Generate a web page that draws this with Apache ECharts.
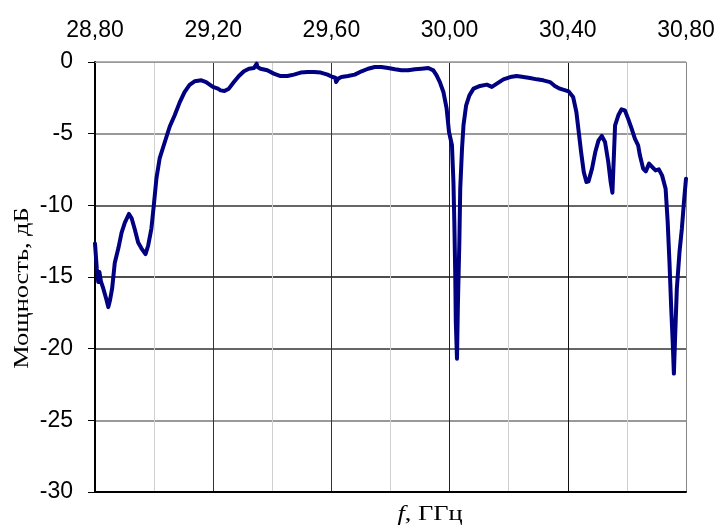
<!DOCTYPE html>
<html>
<head>
<meta charset="utf-8">
<script src="https://cdn.jsdelivr.net/npm/echarts@6/dist/echarts.min.js"></script>
<style>
  html, body { margin: 0; padding: 0; background: #fff; }
  #chart { width: 718px; height: 526px; }
</style>
</head>
<body>
<div id="chart"></div>
<script>
// Measured transmission spectrum: frequency (GHz) and power (dB)
const freq = [
  28.800, 28.806, 28.811, 28.815, 28.820, 28.828, 28.839, 28.845, 28.851, 28.858,
  28.867, 28.879, 28.890, 28.901, 28.915, 28.924, 28.935, 28.946, 28.957, 28.971,
  28.980, 28.991, 28.999, 29.008, 29.019, 29.036, 29.053, 29.070, 29.087, 29.103,
  29.120, 29.137, 29.160, 29.176, 29.199, 29.216, 29.225, 29.238, 29.253, 29.270,
  29.287, 29.304, 29.321, 29.338, 29.347, 29.350, 29.360, 29.383, 29.405, 29.428,
  29.451, 29.473, 29.496, 29.519, 29.541, 29.564, 29.587, 29.604, 29.613, 29.616,
  29.623, 29.634, 29.656, 29.679, 29.702, 29.724, 29.747, 29.769, 29.792, 29.815,
  29.837, 29.860, 29.883, 29.905, 29.928, 29.945, 29.956, 29.967, 29.979, 29.990,
  29.998, 30.008, 30.013, 30.016, 30.019, 30.021, 30.025, 30.028, 30.033, 30.036,
  30.042, 30.047, 30.056, 30.067, 30.081, 30.103, 30.126, 30.143, 30.160, 30.182,
  30.205, 30.227, 30.250, 30.272, 30.295, 30.317, 30.340, 30.356, 30.373, 30.403,
  30.418, 30.429, 30.437, 30.445, 30.454, 30.463, 30.470, 30.482, 30.493, 30.504,
  30.515, 30.526, 30.537, 30.545, 30.551, 30.556, 30.560, 30.571, 30.582, 30.593,
  30.604, 30.616, 30.627, 30.638, 30.644, 30.655, 30.664, 30.675, 30.686, 30.697,
  30.708, 30.719, 30.731, 30.738, 30.744, 30.750, 30.755, 30.759, 30.763, 30.769,
  30.778, 30.786, 30.794, 30.800
];
const power = [
  -12.67, -14.40, -15.35, -14.65, -15.30, -15.80, -16.60, -17.10, -16.60, -15.80,
  -14.00, -13.00, -11.90, -11.20, -10.60, -10.90, -11.70, -12.60, -13.00, -13.40,
  -12.80, -11.60, -10.00, -8.10, -6.70, -5.60, -4.50, -3.70, -2.80, -2.10,
  -1.60, -1.35, -1.28, -1.40, -1.74, -1.86, -1.98, -2.02, -1.86, -1.40,
  -0.98, -0.65, -0.47, -0.42, -0.12, -0.35, -0.47, -0.58, -0.81, -0.98,
  -0.98, -0.88, -0.74, -0.70, -0.70, -0.74, -0.88, -1.05, -1.10, -1.40,
  -1.16, -1.05, -0.98, -0.88, -0.65, -0.47, -0.35, -0.35, -0.42, -0.51,
  -0.58, -0.58, -0.51, -0.47, -0.42, -0.58, -0.93, -1.40, -2.09, -3.26,
  -4.88, -5.81, -8.37, -11.16, -14.65, -18.14, -20.70, -17.00, -12.56, -8.84,
  -6.05, -4.42, -3.02, -2.33, -1.86, -1.67, -1.58, -1.74, -1.51, -1.21,
  -1.05, -0.98, -1.05, -1.12, -1.21, -1.28, -1.40, -1.67, -1.86, -2.05,
  -2.44, -3.49, -4.88, -6.28, -7.67, -8.37, -8.33, -7.44, -6.28, -5.47,
  -5.16, -5.58, -6.98, -8.37, -9.12, -6.51, -4.42, -3.72, -3.30, -3.37,
  -3.95, -4.65, -5.35, -5.81, -6.51, -7.44, -7.63, -7.09, -7.33, -7.56,
  -7.49, -7.91, -8.84, -11.16, -13.95, -17.20, -19.53, -21.74, -19.30, -15.81,
  -13.26, -11.63, -9.53, -8.14
];

// Axis ranges and labels
const freqMin = 28.8, freqMax = 30.8, freqStep = 0.4;
const powerMin = -30, powerMax = 0, powerStep = 5;
const yAxisTitle = 'Мощность, дБ';
const xAxisTitle = '{i|f}, ГГц';

const points = freq.map((f, i) => [f, power[i]]);

const chart = echarts.init(document.getElementById('chart'), null, { renderer: 'canvas' });

const labelFont = {
  color: '#000',
  fontFamily: 'Liberation Sans, Arial, sans-serif',
  fontSize: 23
};

chart.setOption({
  animation: false,
  backgroundColor: '#fff',
  grid: { left: 95, right: 32, top: 62, bottom: 34, show: false },
  xAxis: [
    {
      type: 'value',
      position: 'top',
      min: freqMin,
      max: freqMax,
      interval: freqStep,
      axisLine: { show: true, lineStyle: { color: '#999', width: 1 } },
      axisTick: { show: false },
      axisLabel: Object.assign({
        margin: 20,
        formatter: v => v.toFixed(2).replace('.', ',')
      }, labelFont),
      splitLine: {
        show: true,
        lineStyle: { color: ['#000', '#333', '#333', '#222', '#111', '#888'], width: 1 }
      },
      minorTick: { show: false, splitNumber: 2 },
      minorSplitLine: { show: true, lineStyle: { color: '#d0d0d0', width: 1 } }
    },
    {
      type: 'value',
      position: 'bottom',
      min: freqMin,
      max: freqMax,
      interval: freqStep,
      axisLine: { show: true, onZero: false, lineStyle: { color: '#000', width: 2 } },
      axisTick: { show: false },
      axisLabel: { show: false },
      splitLine: { show: false }
    }
  ],
  yAxis: {
    type: 'value',
    min: powerMin,
    max: powerMax,
    interval: powerStep,
    axisLine: { show: true, onZero: false, lineStyle: { color: '#000', width: 2 } },
    axisTick: { show: true, inside: false, length: 7, lineStyle: { color: '#000', width: 1 } },
    axisLabel: Object.assign({ margin: 22 }, labelFont),
    splitLine: {
      show: true,
      lineStyle: { color: ['#000', '#777', '#333', '#111', '#333', '#777', '#999'], width: 1.5 }
    }
  },
  graphic: [
    {
      type: 'text',
      x: 22,
      y: 288,
      rotation: Math.PI / 2,
      scaleX: 1.2,
      style: {
        text: yAxisTitle,
        fill: '#000',
        font: '22px "Liberation Serif", "Times New Roman", serif',
        textAlign: 'center',
        textVerticalAlign: 'middle'
      }
    },
    {
      type: 'text',
      x: 430,
      y: 514,
      scaleX: 1.2,
      style: {
        text: xAxisTitle,
        fill: '#000',
        font: '22px "Liberation Serif", "Times New Roman", serif',
        textAlign: 'center',
        textVerticalAlign: 'middle',
        rich: {
          i: { fontStyle: 'italic', fontFamily: 'Liberation Serif', fontSize: 22, fill: '#000' }
        }
      }
    }
  ],
  series: [
    {
      type: 'line',
      xAxisIndex: 0,
      data: points,
      showSymbol: false,
      smooth: false,
      lineStyle: { color: '#000080', width: 4, join: 'round', cap: 'round' },
      z: 5
    }
  ]
});
</script>
</body>
</html>
